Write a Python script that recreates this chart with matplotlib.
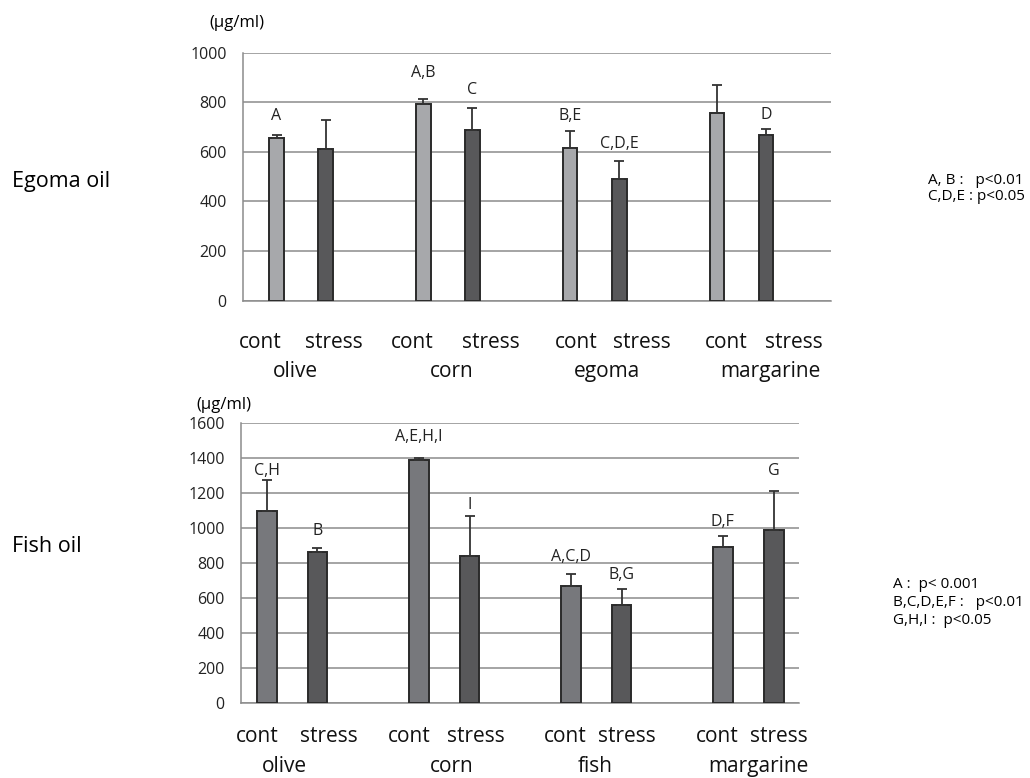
import matplotlib.pyplot as plt
from matplotlib.transforms import blended_transform_factory

plt.rcParams['font.family'] = ['Open Sans', 'DejaVu Sans']

# Egoma oil diet groups
egoma_groups = ['olive', 'corn', 'egoma', 'margarine']
egoma_cont = [655, 792, 617, 757]
egoma_cont_err = [15, 20, 68, 114]
egoma_stress = [613, 688, 491, 667]
egoma_stress_err = [115, 89, 74, 24]
egoma_cont_lbl = ['A', 'A,B', 'B,E', '']
egoma_stress_lbl = ['', 'C', 'C,D,E', 'D']
egoma_ticks = [0, 200, 400, 600, 800, 1000]

# Fish oil diet groups
fish_groups = ['olive', 'corn', 'fish', 'margarine']
fish_cont = [1096, 1390, 669, 889]
fish_cont_err = [180, 8, 69, 65]
fish_stress = [860, 841, 559, 986]
fish_stress_err = [25, 225, 93, 227]
fish_cont_lbl = ['C,H', 'A,E,H,I', 'A,C,D', 'D,F']
fish_stress_lbl = ['B', 'I', 'B,G', 'G']
fish_ticks = [0, 200, 400, 600, 800, 1000, 1200, 1400, 1600]

fig = plt.figure(figsize=(10.3, 7.78), dpi=100)


def draw_panel(ax, groups, cont, cont_err, stress, stress_err, cont_lbl, stress_lbl,
               ticks, xpos_c, xpos_s, width, xmax, c_col, s_col,
               pad_c, pad_s, lx_c, lx_s, lx_g, row1, row2):
    ax.bar(xpos_c, cont, width, color=c_col, edgecolor='#2a2a2a', linewidth=1.4, zorder=3)
    ax.bar(xpos_s, stress, width, color=s_col, edgecolor='#2a2a2a', linewidth=1.4, zorder=3)
    ax.errorbar(xpos_c, cont, yerr=[[0] * len(cont), cont_err], fmt='none',
                ecolor='#333333', elinewidth=1.3, capsize=3.5, capthick=1.3, zorder=4)
    ax.errorbar(xpos_s, stress, yerr=[[0] * len(stress), stress_err], fmt='none',
                ecolor='#333333', elinewidth=1.3, capsize=3.5, capthick=1.3, zorder=4)

    # significance letters above the error bars
    for x, v, e, t, p in zip(xpos_c, cont, cont_err, cont_lbl, pad_c):
        ax.annotate(t, (x, v + e), xytext=(0, p), textcoords='offset points',
                    ha='center', va='center', fontsize=11.5, color='#222222')
    for x, v, e, t, p in zip(xpos_s, stress, stress_err, stress_lbl, pad_s):
        ax.annotate(t, (x, v + e), xytext=(0, p), textcoords='offset points',
                    ha='center', va='center', fontsize=11.5, color='#222222')

    ax.set_xlim(0, xmax)
    ax.set_ylim(ticks[0], ticks[-1])
    ax.set_yticks(ticks)
    ax.set_xticks([])
    ax.tick_params(axis='y', length=0, labelsize=11.5, pad=12, colors='#222222')
    ax.grid(axis='y', color='#8c8c8c', linewidth=1.1, zorder=0)
    ax.set_axisbelow(True)
    for s in ['top', 'right']:
        ax.spines[s].set_visible(False)
    for s in ['left', 'bottom']:
        ax.spines[s].set_color('#8c8c8c')
        ax.spines[s].set_linewidth(1.1)

    trans = blended_transform_factory(ax.transData, ax.transAxes)
    for i, g in enumerate(groups):
        ax.text(lx_c[i], row1, 'cont', transform=trans, ha='center', va='center',
                fontsize=15, color='#111111')
        ax.text(lx_s[i], row1, 'stress', transform=trans, ha='center', va='center',
                fontsize=15, color='#111111')
        ax.text(lx_g[i], row2, g, transform=trans, ha='center', va='center',
                fontsize=15, color='#111111')


n = len(egoma_groups)

# top panel
ax1 = fig.add_axes([0.2364, 0.6135, 0.570, 0.3188])
draw_panel(ax1, egoma_groups, egoma_cont, egoma_cont_err, egoma_stress, egoma_stress_err,
           egoma_cont_lbl, egoma_stress_lbl, egoma_ticks,
           [i + 0.225 for i in range(n)], [i + 0.56 for i in range(n)], 0.1, 4.0,
           '#a7a8ab', '#58585a',
           [13, 19, 11, 0], [0, 13, 12, 10],
           [0.117, 1.151, 2.264, 3.29], [0.614, 1.685, 2.713, 3.75],
           [0.351, 1.42, 2.48, 3.587], -0.169, -0.286)
ax1.text(-0.011, 1.121, '(µg/ml)', transform=ax1.transAxes, fontsize=12, ha='center', va='center')

# bottom panel
ax2 = fig.add_axes([0.2344, 0.0968, 0.5418, 0.3595])
draw_panel(ax2, fish_groups, fish_cont, fish_cont_err, fish_stress, fish_stress_err,
           fish_cont_lbl, fish_stress_lbl, fish_ticks,
           [i + 0.166 for i in range(n)], [i + 0.5 for i in range(n)], 0.13, 3.67,
           '#77787c', '#58585a',
           [6, 15, 12, 10], [12, 8, 10, 14],
           [0.104, 1.101, 2.129, 3.127], [0.578, 1.54, 2.537, 3.537],
           [0.28, 1.386, 2.326, 3.398], -0.121, -0.229)
ax2.text(-0.031, 1.063, '(µg/ml)', transform=ax2.transAxes, fontsize=12, ha='center', va='center')

fig.text(12 / 1030, 1 - 181 / 778, 'Egoma oil', fontsize=15.5, ha='left', va='center')
fig.text(12 / 1030, 1 - 546 / 778, 'Fish oil', fontsize=15.5, ha='left', va='center')

fig.text(928 / 1030, 1 - 180 / 778, 'A, B :   p<0.01', fontsize=11, ha='left', va='center')
fig.text(928 / 1030, 1 - 197 / 778, 'C,D,E : p<0.05', fontsize=11, ha='left', va='center')

fig.text(893 / 1030, 1 - 584 / 778, 'A :  p< 0.001', fontsize=11, ha='left', va='center')
fig.text(893 / 1030, 1 - 602 / 778, 'B,C,D,E,F :   p<0.01', fontsize=11, ha='left', va='center')
fig.text(893 / 1030, 1 - 620 / 778, 'G,H,I :  p<0.05', fontsize=11, ha='left', va='center')

fig.savefig('out.png', dpi=100, facecolor='white')
